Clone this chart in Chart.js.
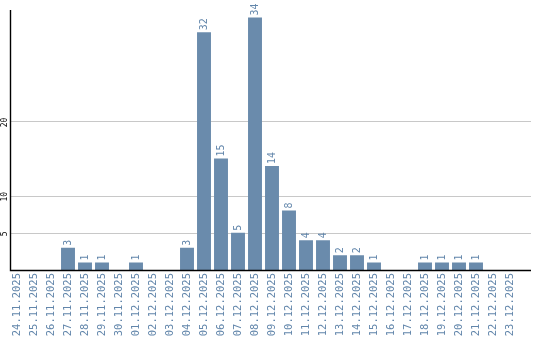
<!DOCTYPE html>
<html>
<head>
<meta charset="utf-8">
<script src="https://cdn.jsdelivr.net/npm/chart.js@4"></script>
<style>
  html, body { margin: 0; padding: 0; background: #fff; }
  #wrap { width: 540px; height: 340px; }
</style>
</head>
<body>
<div id="wrap"><canvas id="c" width="540" height="340"></canvas></div>
<script>
    // dates and counts
    const days = ['24.11.2025', '25.11.2025', '26.11.2025', '27.11.2025', '28.11.2025', '29.11.2025',
        '30.11.2025', '01.12.2025', '02.12.2025', '03.12.2025', '04.12.2025', '05.12.2025',
        '06.12.2025', '07.12.2025', '08.12.2025', '09.12.2025', '10.12.2025', '11.12.2025',
        '12.12.2025', '13.12.2025', '14.12.2025', '15.12.2025', '16.12.2025', '17.12.2025',
        '18.12.2025', '19.12.2025', '20.12.2025', '21.12.2025', '22.12.2025', '23.12.2025'];
    const counts = [0, 0, 0, 3, 1, 1, 0, 1, 0, 0, 3, 32, 15, 5, 34, 14, 8, 4, 4, 2, 2, 1, 0, 0, 1, 1, 1, 1, 0, 0];
    const yTicks = [5, 10, 20];

    const barColor = '#6a8bac';
    const textColor = '#6286ab';

    // grid, axis lines and value labels
    const extras = {
        id: 'extras',
        beforeDatasetsDraw(chart) {
            const ctx = chart.ctx;
            const y = chart.scales.y;
            ctx.save();
            ctx.lineWidth = 1;
            ctx.strokeStyle = '#c8c8c8';
            yTicks.forEach(v => {
                const py = Math.round(y.getPixelForValue(v)) + 0.5;
                ctx.beginPath();
                ctx.moveTo(11, py);
                ctx.lineTo(531, py);
                ctx.stroke();
            });
            ctx.restore();
        },
        afterDatasetsDraw(chart) {
            const ctx = chart.ctx;
            const top = chart.chartArea.top, bottom = chart.chartArea.bottom;
            ctx.save();
            ctx.strokeStyle = '#000';
            ctx.lineWidth = 1.4;
            ctx.beginPath();
            ctx.moveTo(10.5, top);
            ctx.lineTo(10.5, bottom + 0.5);
            ctx.lineTo(531, bottom + 0.5);
            ctx.stroke();

            // y tick labels, turned up
            ctx.fillStyle = '#000';
            ctx.font = '8px "DejaVu Sans Mono"';
            ctx.textAlign = 'center';
            ctx.textBaseline = 'middle';
            yTicks.forEach(v => {
                const py = chart.scales.y.getPixelForValue(v);
                ctx.save();
                ctx.translate(5, py + 1);
                ctx.rotate(-Math.PI / 2);
                ctx.fillText(String(v), 0, 0);
                ctx.restore();
            });

            // value labels above bars
            ctx.fillStyle = textColor;
            ctx.font = '10px "DejaVu Sans Mono"';
            ctx.textAlign = 'left';
            const meta = chart.getDatasetMeta(0);
            meta.data.forEach((bar, i) => {
                if (!counts[i]) return;
                ctx.save();
                ctx.translate(bar.x, bar.y - 2);
                ctx.rotate(-Math.PI / 2);
                ctx.fillText(String(counts[i]), 0, 0);
                ctx.restore();
            });
            ctx.restore();
        }
    };

    new Chart(document.getElementById('c'), {
        type: 'bar',
        data: {
            labels: days,
            datasets: [{
                data: counts,
                backgroundColor: barColor,
                borderWidth: 0,
                barPercentage: 0.82,
                categoryPercentage: 1
            }]
        },
        options: {
            responsive: false,
            animation: false,
            layout: { padding: { top: 10, right: 21.5, left: 0, bottom: 0 } },
            plugins: { legend: { display: false }, tooltip: { enabled: false } },
            scales: {
                x: {
                    grid: { display: false, drawTicks: false },
                    border: { display: false },
                    ticks: {
                        color: textColor,
                        font: { family: 'DejaVu Sans Mono', size: 10.5 },
                        minRotation: 90,
                        maxRotation: 90,
                        autoSkip: false,
                        padding: 3
                    },
                    afterFit(scale) { scale.height = 70; }
                },
                y: {
                    min: 0,
                    max: 35,
                    grid: { display: false, drawTicks: false },
                    border: { display: false },
                    ticks: { display: false },
                    afterFit(scale) { scale.width = 8.5; }
                }
            }
        },
        plugins: [extras]
    });
</script>
</body>
</html>
